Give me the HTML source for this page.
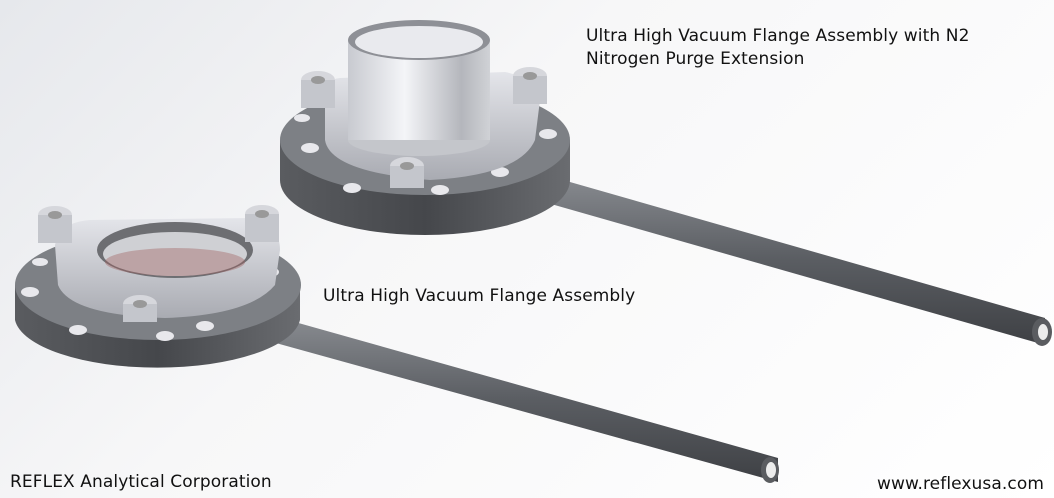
<!DOCTYPE html>
<html><head><meta charset="utf-8"><style>
html,body{margin:0;padding:0;}
body{width:1054px;height:498px;overflow:hidden;background:linear-gradient(135deg,#e6e8ec 0%,#f7f7f8 40%,#ffffff 100%);position:relative;font-family:"DejaVu Sans","Liberation Sans",sans-serif;}
.t{position:absolute;font-size:17px;color:#111;white-space:nowrap;line-height:24px;letter-spacing:0.1px;}
svg{position:absolute;left:0;top:0;}
</style></head><body>
<svg width="1054" height="498" viewBox="0 0 1054 498">
<defs>
<linearGradient id="rod" x1="0" y1="0" x2="0" y2="1"><stop offset="0" stop-color="#8a8d92"/><stop offset="0.5" stop-color="#5b5e63"/><stop offset="1" stop-color="#3e4044"/></linearGradient>
<linearGradient id="side" x1="0" y1="0" x2="1" y2="0"><stop offset="0" stop-color="#5a5c60"/><stop offset="0.5" stop-color="#45474b"/><stop offset="1" stop-color="#6a6c70"/></linearGradient>
<linearGradient id="metal" x1="0" y1="0" x2="1" y2="0"><stop offset="0" stop-color="#c8cad0"/><stop offset="0.4" stop-color="#f4f5f8"/><stop offset="0.8" stop-color="#b4b6bc"/><stop offset="1" stop-color="#d0d2d6"/></linearGradient>
<linearGradient id="clamp" x1="0" y1="0" x2="0" y2="1"><stop offset="0" stop-color="#e4e5ea"/><stop offset="1" stop-color="#a9abb2"/></linearGradient>
</defs>
<polygon points="535,172 1045,318 1045,345 530,198" fill="url(#rod)"/>
<ellipse cx="1042" cy="332" rx="10" ry="14" fill="#5a5c60"/><ellipse cx="1043" cy="332" rx="5" ry="8" fill="#ececec"/>
<path d="M280,140 L280,180 A145,55 0 0 0 570,180 L570,140 Z" fill="url(#side)"/>
<ellipse cx="425" cy="140" rx="145" ry="55" fill="#7d8085"/>
<g fill="#e8e8ec"><ellipse cx="310" cy="148" rx="9" ry="5"/><ellipse cx="352" cy="188" rx="9" ry="5"/><ellipse cx="440" cy="190" rx="9" ry="5"/><ellipse cx="500" cy="172" rx="9" ry="5"/><ellipse cx="548" cy="134" rx="9" ry="5"/><ellipse cx="302" cy="118" rx="8" ry="4"/></g>
<path d="M325,105 Q320,80 340,78 L505,72 Q535,78 540,100 L535,140 Q520,175 430,180 Q330,172 325,140 Z" fill="url(#clamp)"/>
<ellipse cx="318" cy="80" rx="17" ry="9" fill="#d6d7dc"/><rect x="301" y="80" width="34" height="28" fill="#c4c6cc"/><ellipse cx="318" cy="80" rx="7" ry="4" fill="#999"/>
<ellipse cx="530" cy="76" rx="17" ry="9" fill="#d6d7dc"/><rect x="513" y="76" width="34" height="28" fill="#c4c6cc"/><ellipse cx="530" cy="76" rx="7" ry="4" fill="#999"/>
<ellipse cx="407" cy="166" rx="17" ry="9" fill="#d6d7dc"/><rect x="390" y="166" width="34" height="22" fill="#c4c6cc"/><ellipse cx="407" cy="166" rx="7" ry="4" fill="#999"/>
<ellipse cx="419" cy="140" rx="71" ry="16" fill="#c4c6cb"/>
<rect x="348" y="40" width="142" height="100" fill="url(#metal)"/>
<ellipse cx="419" cy="40" rx="71" ry="20" fill="#8e9096"/><ellipse cx="419" cy="42" rx="64" ry="16" fill="#e9eaee"/>
<polygon points="270,315 778,458 778,482 265,340" fill="url(#rod)"/>
<ellipse cx="770" cy="470" rx="9" ry="13" fill="#5a5c60"/><ellipse cx="771" cy="470" rx="5" ry="8" fill="#ececec"/>
<path d="M15,285 L15,320 A143,52 0 0 0 300,320 L300,285 Z" fill="url(#side)"/>
<ellipse cx="158" cy="285" rx="143" ry="55" fill="#7d8085"/>
<g fill="#e8e8ec"><ellipse cx="30" cy="292" rx="9" ry="5"/><ellipse cx="78" cy="330" rx="9" ry="5"/><ellipse cx="165" cy="336" rx="9" ry="5"/><ellipse cx="205" cy="326" rx="9" ry="5"/><ellipse cx="270" cy="272" rx="9" ry="5"/><ellipse cx="40" cy="262" rx="8" ry="4"/></g>
<path d="M55,245 Q60,222 90,220 L250,218 Q280,225 280,250 L275,285 Q250,315 165,318 Q70,315 58,285 Z" fill="url(#clamp)"/>
<ellipse cx="175" cy="250" rx="78" ry="28" fill="#6d6e72"/><ellipse cx="175" cy="254" rx="72" ry="22" fill="#cfd0d4"/><ellipse cx="175" cy="262" rx="70" ry="14" fill="#a06060" opacity="0.4"/>
<ellipse cx="55" cy="215" rx="17" ry="9" fill="#d6d7dc"/><rect x="38" y="215" width="34" height="28" fill="#c4c6cc"/><ellipse cx="55" cy="215" rx="7" ry="4" fill="#999"/>
<ellipse cx="262" cy="214" rx="17" ry="9" fill="#d6d7dc"/><rect x="245" y="214" width="34" height="28" fill="#c4c6cc"/><ellipse cx="262" cy="214" rx="7" ry="4" fill="#999"/>
<ellipse cx="140" cy="304" rx="17" ry="9" fill="#d6d7dc"/><rect x="123" y="304" width="34" height="18" fill="#c4c6cc"/><ellipse cx="140" cy="304" rx="7" ry="4" fill="#999"/>
</svg>
<div class="t" style="left:586px;top:24px;">Ultra High Vacuum Flange Assembly with N2</div>
<div class="t" style="left:586px;top:47px;">Nitrogen Purge Extension</div>
<div class="t" style="left:323px;top:284px;">Ultra High Vacuum Flange Assembly</div>
<div class="t" style="left:10px;top:470px;">REFLEX Analytical Corporation</div>
<div class="t" style="left:877px;top:472px;">www.reflexusa.com</div>
</body></html>
